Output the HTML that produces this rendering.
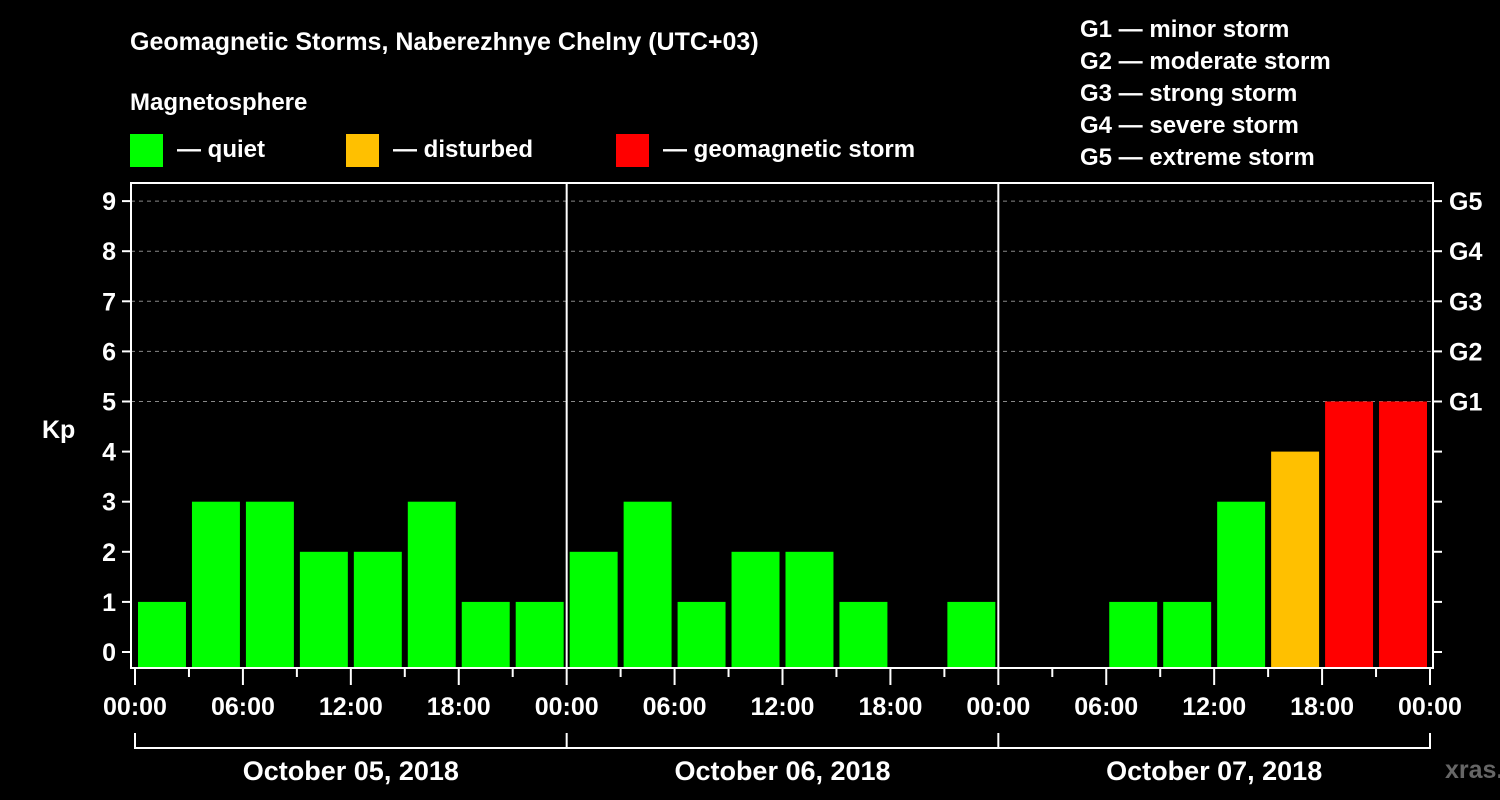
<!DOCTYPE html>
<html><head><meta charset="utf-8">
<style>
html,body{margin:0;padding:0;background:#000;}
svg{display:block;font-family:"Liberation Sans",Arial,sans-serif;font-weight:bold;}
</style></head>
<body>
<svg id="chart" width="1500" height="800" viewBox="0 0 1500 800">
<rect x="0" y="0" width="1500" height="800" fill="#000"/>
<text x="130" y="50" fill="#fff" font-size="25">Geomagnetic Storms, Naberezhnye Chelny (UTC+03)</text>
<text x="130" y="110" fill="#fff" font-size="24">Magnetosphere</text>
<g><rect x="130" y="134" width="33" height="33" fill="#00ff00"/><text x="177" y="157" fill="#fff" font-size="24">— quiet</text></g>
<g><rect x="346" y="134" width="33" height="33" fill="#ffc000"/><text x="393" y="157" fill="#fff" font-size="24">— disturbed</text></g>
<g><rect x="616" y="134" width="33" height="33" fill="#ff0000"/><text x="663" y="157" fill="#fff" font-size="24">— geomagnetic storm</text></g>
<g fill="#fff" font-size="24">
<text x="1080" y="37">G1 — minor storm</text>
<text x="1080" y="69">G2 — moderate storm</text>
<text x="1080" y="101">G3 — strong storm</text>
<text x="1080" y="133">G4 — severe storm</text>
<text x="1080" y="165">G5 — extreme storm</text>
</g>
<text x="42" y="438" fill="#fff" font-size="25">Kp</text>
<text x="1445" y="778" fill="#666" font-size="25">xras.ru</text>
<g id="plot"></g>
</svg>
<script>
const kpValues=[1,3,3,2,2,3,1,1, 2,3,1,2,2,1,0,1, 0,0,1,1,3,4,5,5];
const yTicks=[0,1,2,3,4,5,6,7,8,9];
const gLabels=["G1","G2","G3","G4","G5"];
const gLevels=[5,6,7,8,9];
const timeLabels=["00:00","06:00","12:00","18:00"];
const dayLabels=["October 05, 2018","October 06, 2018","October 07, 2018"];

const NS="http://www.w3.org/2000/svg";
const g=document.getElementById('plot');
const X0=135,X1=1430,PLOT_L=131,PLOT_R=1433,PLOT_T=183,PLOT_B=668;
const nSlots=kpValues.length;
const slotW=(X1-X0)/nSlots;
const yOf=v=>652-v*50.1;
const xOf=i=>X0+i*slotW;
function mk(tag,attrs){const e=document.createElementNS(NS,tag);for(const k in attrs)e.setAttribute(k,attrs[k]);g.appendChild(e);return e;}

// gridlines
gLevels.forEach(v=>{
  const l=mk('line',{x1:PLOT_L,x2:PLOT_R,y1:yOf(v),y2:yOf(v),stroke:'#888','stroke-dasharray':'4,4','stroke-width':1});
  
  
});
// bars
kpValues.forEach((v,i)=>{
  if(v<=0)return;
  const c=v>=5?'#ff0000':(v>=4?'#ffc000':'#00ff00');
  const r=mk('rect',{x:xOf(i)+3,y:yOf(v),width:slotW-6,height:PLOT_B-yOf(v),fill:c});
  
  
});
// day separators
for(let d=1;d<dayLabels.length;d++){
  const x=xOf(d*8);
  const l=mk('line',{x1:x,x2:x,y1:PLOT_T,y2:PLOT_B,stroke:'#fff','stroke-width':2});
  
  
}
// frame
const fr=mk('rect',{x:PLOT_L,y:PLOT_T,width:PLOT_R-PLOT_L,height:PLOT_B-PLOT_T,fill:'none',stroke:'#fff','stroke-width':2});


// y ticks
yTicks.forEach(v=>{
  const y=yOf(v);
  mk('line',{x1:122,x2:PLOT_L,y1:y,y2:y,stroke:'#fff','stroke-width':2});
  mk('line',{x1:PLOT_R,x2:1442,y1:y,y2:y,stroke:'#fff','stroke-width':2});
  const t=mk('text',{x:116,y:y+9,fill:'#fff','font-size':25,'text-anchor':'end'});
  t.textContent=v;
  
  
});
gLevels.forEach((v,i)=>{
  const t=mk('text',{x:1449,y:yOf(v)+9,fill:'#fff','font-size':25});
  t.textContent=gLabels[i];
  
  
});
// x ticks
for(let i=0;i<=nSlots;i++){
  const x=xOf(i),major=i%2===0;
  mk('line',{x1:x,x2:x,y1:PLOT_B,y2:major?685:677,stroke:'#fff','stroke-width':2});
  if(major){
    const t=mk('text',{x:x,y:715,fill:'#fff','font-size':25,'text-anchor':'middle'});
    t.textContent=timeLabels[(i/2)%4];
    
    
  }
}
// day brackets
mk('line',{x1:X0,x2:X1,y1:748,y2:748,stroke:'#fff','stroke-width':2});
for(let d=0;d<=dayLabels.length;d++){const x=xOf(d*8);mk('line',{x1:x,x2:x,y1:733,y2:749,stroke:'#fff','stroke-width':2});}
dayLabels.forEach((s,d)=>{
  const t=mk('text',{x:xOf(d*8+4),y:780,fill:'#fff','font-size':27,'text-anchor':'middle'});
  t.textContent=s;
  
  
});
</script>
</body></html>
